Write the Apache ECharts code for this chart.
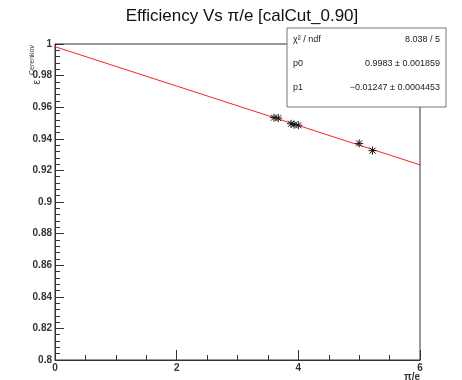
<!DOCTYPE html>
<html><head><meta charset="utf-8">
<script src="https://cdn.jsdelivr.net/npm/echarts@6/dist/echarts.min.js"></script>
<style>html,body{margin:0;padding:0;background:#fff}#c{width:462px;height:380px}</style>
</head><body><div id="c"></div>
<script>
// data
const ratioX = [3.60, 3.67, 3.88, 3.93, 4.00, 5.00, 5.22];
const effY   = [0.9534, 0.9531, 0.9495, 0.9490, 0.9486, 0.9371, 0.9325];
const fitX = [0, 6];
const fitY = [0.9983, 0.9235];
const xTicks = [0, 2, 4, 6];
const yTicks = [0.8, 0.82, 0.84, 0.86, 0.88, 0.9, 0.92, 0.94, 0.96, 0.98, 1];
const statNames = ['χ² / ndf', 'p0', 'p1'];
const statValues = ['8.038 / 5', '0.9983 ± 0.001859', '−0.01247 ± 0.0004453'];

const FONT = '"Liberation Sans", Arial, sans-serif';
const chart = echarts.init(document.getElementById('c'));
const pts = ratioX.map((x, i) => [x, effY[i]]);
const fit = fitX.map((x, i) => [x, fitY[i]]);

const statGraphics = [{
  type: 'rect', shape: {x: 287, y: 28, width: 159, height: 79},
  style: {fill: '#fff', stroke: '#777', lineWidth: 1}, z: 100
}];
statNames.forEach((n, i) => {
  statGraphics.push({type: 'text', x: 293, y: 40 + i * 24, z: 101,
    style: {text: n, font: '9px ' + FONT, fill: '#222', verticalAlign: 'middle', align: 'left'}});
  statGraphics.push({type: 'text', x: 440, y: 40 + i * 24, z: 101,
    style: {text: statValues[i], font: '9px ' + FONT, fill: '#222', verticalAlign: 'middle', align: 'right'}});
});

chart.setOption({
  backgroundColor: '#fff',
  animation: false,
  title: {text: 'Efficiency Vs π/e [calCut_0.90]', left: 237, top: 3, textAlign: 'center',
    textStyle: {fontFamily: FONT, fontSize: 17, fontWeight: 'normal', color: '#111'}},
  grid: {left: 55, right: 42, top: 44, bottom: 20, show: true, borderColor: '#333', borderWidth: 1,
    backgroundColor: '#fff', containLabel: false, outerBoundsMode: 'none'},
  xAxis: {type: 'value', min: xTicks[0], max: xTicks[xTicks.length - 1], interval: 2,
    axisLine: {show: true, onZero: false, lineStyle: {color: '#333'}},
    axisTick: {inside: true, length: 10, lineStyle: {color: '#333'}},
    minorTick: {show: true, splitNumber: 4, length: 5, lineStyle: {color: '#333'}},
    splitLine: {show: false},
    axisLabel: {fontFamily: FONT, fontSize: 10, fontWeight: 'bold', color: '#333', margin: 3}
  },
  yAxis: {type: 'value', min: yTicks[0], max: yTicks[yTicks.length - 1], interval: 0.02,
    axisLine: {show: true, onZero: false, lineStyle: {color: '#333'}},
    axisTick: {inside: true, length: 9, lineStyle: {color: '#333'}},
    minorTick: {show: true, splitNumber: 5, length: 5, lineStyle: {color: '#333'}},
    splitLine: {show: false},
    axisLabel: {fontFamily: FONT, fontSize: 10, fontWeight: 'bold', color: '#333', margin: 3,
      formatter: v => String(+v.toFixed(2))}
  },
  graphic: [{
    type: 'text', x: 32, y: 45, rotation: Math.PI / 2, z: 50,
    style: {text: 'Cerenkov', align: 'right', verticalAlign: 'middle',
      fontFamily: FONT, fontSize: 7, fill: '#333'}
  }, {
    type: 'text', x: 37, y: 80, rotation: Math.PI / 2, z: 50,
    style: {text: 'ε', align: 'right', verticalAlign: 'middle',
      fontFamily: FONT, fontSize: 10, fill: '#333'}
  }, {
    type: 'text', x: 420, y: 377, z: 50,
    style: {text: 'π/e', align: 'right', verticalAlign: 'middle',
      fontFamily: FONT, fontSize: 10, fontWeight: 'bold', fill: '#333'}
  }].concat(statGraphics),
  series: [{
    type: 'line', data: fit, symbol: 'none', showSymbol: false,
    lineStyle: {color: '#ff2020', width: 1}, z: 3, silent: true
  }, {
    type: 'custom', data: pts, z: 5,
    renderItem: (params, api) => {
      const c = api.coord([api.value(0), api.value(1)]);
      const r = 4, d = 3;
      const st = {stroke: '#111', lineWidth: 1};
      return {type: 'group', children: [
        {type: 'line', shape: {x1: c[0] - r, y1: c[1], x2: c[0] + r, y2: c[1]}, style: st},
        {type: 'line', shape: {x1: c[0], y1: c[1] - r, x2: c[0], y2: c[1] + r}, style: st},
        {type: 'line', shape: {x1: c[0] - d, y1: c[1] - d, x2: c[0] + d, y2: c[1] + d}, style: st},
        {type: 'line', shape: {x1: c[0] - d, y1: c[1] + d, x2: c[0] + d, y2: c[1] - d}, style: st}
      ]};
    }
  }]
});
</script></body></html>
